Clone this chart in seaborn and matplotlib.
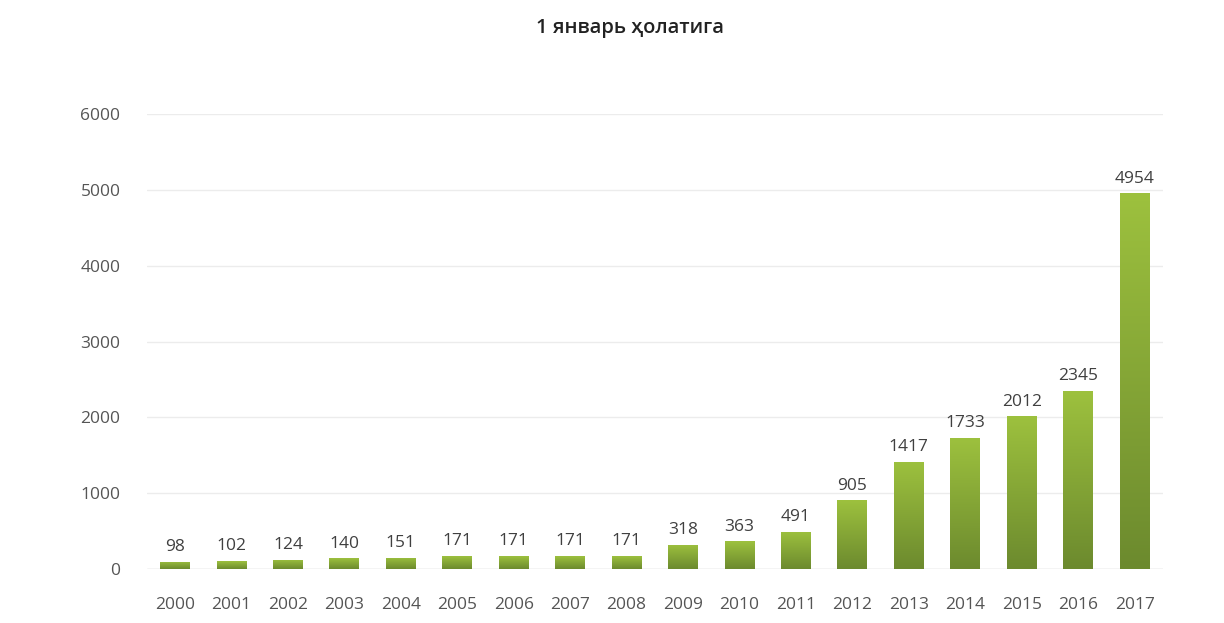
import numpy as np
import pandas as pd
import matplotlib
matplotlib.use("Agg")
import matplotlib.pyplot as plt
from matplotlib.colors import LinearSegmentedColormap
import seaborn as sns

years = ["2000", "2001", "2002", "2003", "2004", "2005", "2006", "2007", "2008",
         "2009", "2010", "2011", "2012", "2013", "2014", "2015", "2016", "2017"]
counts = [98, 102, 124, 140, 151, 171, 171, 171, 171,
          318, 363, 491, 905, 1417, 1733, 2012, 2345, 4954]
title = "1 январь ҳолатига"
y_ticks = [0, 1000, 2000, 3000, 4000, 5000, 6000]

sns.set_style("white")
plt.rcParams["font.family"] = ["Open Sans", "DejaVu Sans"]

df = pd.DataFrame({"year": years, "count": counts})

fig = plt.figure(figsize=(12.24, 6.23), dpi=100)
fig.patch.set_facecolor("white")
ax = fig.add_axes([0.120, 0.0867, 0.830, 0.730])

sns.barplot(data=df, x="year", y="count", ax=ax, width=0.53,
            color="#86a836", edgecolor="none", linewidth=0, zorder=2)

# vertical green gradient inside each bar
grad_cmap = LinearSegmentedColormap.from_list("bar_grad", ["#6c8a2e", "#9dc13e"])
grad = np.linspace(0, 1, 256).reshape(-1, 1)
for patch in ax.patches:
    x0, y0 = patch.get_x(), patch.get_y()
    w, h = patch.get_width(), patch.get_height()
    patch.set_facecolor("none")
    im = ax.imshow(grad, cmap=grad_cmap, origin="lower", aspect="auto",
                   extent=[x0, x0 + w, y0, y0 + h], zorder=2.5,
                   interpolation="bicubic")
    im.set_clip_path(patch)
    ax.text(x0 + w / 2, y0 + h + 90, f"{int(round(h))}", ha="center", va="bottom",
            fontsize=12.5, color="#404040", zorder=3)

ax.set_xlim(-0.5, len(years) - 0.5)
ax.set_ylim(0, 6000)
ax.set_yticks(y_ticks)
ax.set_yticklabels([str(t) for t in y_ticks])
ax.yaxis.grid(True, color="#ececec", linewidth=1.0, zorder=0)
ax.set_axisbelow(True)
for s in ax.spines.values():
    s.set_visible(False)
ax.axhline(0, color="#dcdcdc", linewidth=1.0, zorder=1)
ax.tick_params(axis="both", length=0, labelsize=12.5, labelcolor="#555555")
ax.tick_params(axis="y", pad=19)
ax.tick_params(axis="x", pad=20)
ax.set_xlabel("")
ax.set_ylabel("")

fig.text(0.515, 0.955, title, ha="center", va="center", fontsize=14.5,
         color="#222222", fontweight="semibold")

fig.savefig("out.png", dpi=100, facecolor="white")
